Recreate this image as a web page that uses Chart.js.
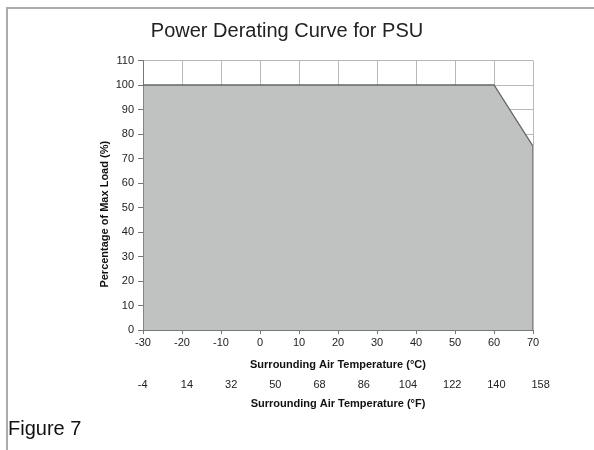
<!DOCTYPE html>
<html>
<head>
<meta charset="utf-8">
<script src="https://cdn.jsdelivr.net/npm/chart.js@4"></script>
<style>
    body { margin: 0; background: #fff; font-family: "Liberation Sans", Arial, sans-serif; }
    #frame {
        position: absolute; left: 6px; top: 7px; right: 0; bottom: 0;
        border-top: 2px solid #ababab; border-left: 2px solid #ababab;
    }
    #chart { position: absolute; left: 0; top: 0; }
    #caption {
        position: absolute; left: 8px; top: 417px;
        font-size: 20px; color: #111;
    }
</style>
</head>
<body>
<div id="frame"></div>
<canvas id="chart" width="594" height="450"></canvas>
<div id="caption">Figure 7</div>
<script>
// derating outline (°C vs % load)
const tempC = [-30, -30, 60, 70, 70];
const loadPct = [0, 100, 100, 75, 0];
// second axis labels (°F), as printed
const tempF = [-4, 14, 32, 50, 68, 86, 104, 122, 140, 158];

const FONT = "'Liberation Sans', Arial, sans-serif";
const tickFont = { family: FONT, size: 11 };
const titleFont = { family: FONT, size: 11, weight: 'bold' };

// y title sits a little below the plot centre in the original
const yTitlePlugin = {
    id: 'yTitle',
    afterDraw(chart) {
        const { ctx, chartArea } = chart;
        const y = chart.scales.y;
        ctx.save();
        ctx.translate(y.left + 64, (chartArea.top + chartArea.bottom) / 2 + 19);
        ctx.rotate(-Math.PI / 2);
        ctx.font = `bold 11px ${FONT}`;
        ctx.fillStyle = '#111';
        ctx.textAlign = 'center';
        ctx.textBaseline = 'middle';
        ctx.fillText('Percentage of Max Load (%)', 0, 0);
        ctx.restore();
    }
};

const ctx = document.getElementById('chart').getContext('2d');
new Chart(ctx, {
    type: 'line',
    data: {
        datasets: [{
            data: tempC.map((t, i) => ({ x: t, y: loadPct[i] })),
            borderColor: '#666',
            borderWidth: 1.3,
            backgroundColor: '#c0c2c1',
            fill: 'origin',
            pointRadius: 0,
            tension: 0
        }]
    },
    options: {
        responsive: false,
        animation: false,
        layout: { padding: { left: 41, right: 61, top: 0, bottom: 38 } },
        plugins: {
            legend: { display: false },
            tooltip: { enabled: false },
            title: {
                display: true,
                text: 'Power Derating Curve for PSU',
                color: '#222',
                font: { family: FONT, size: 20, weight: 'normal', lineHeight: 1.2 },
                padding: { top: 19, bottom: 17.5 }
            }
        },
        scales: {
            x: {
                type: 'linear',
                position: 'bottom',
                min: -30, max: 70,
                ticks: { stepSize: 10, color: '#222', font: tickFont, padding: 2.4, maxRotation: 0 },
                grid: { color: '#b8b8b8', tickColor: '#777', tickLength: 4 },
                border: { color: '#777' },
                title: {
                    display: true,
                    text: 'Surrounding Air Temperature (°C)',
                    color: '#111', font: titleFont,
                    padding: { top: 0, bottom: 0.4 }
                },
                afterFit: (s) => { s.height = 42; }
            },
            x2: {
                type: 'linear',
                position: 'bottom',
                min: -3.9, max: 154.9,
                afterBuildTicks: (s) => { s.ticks = tempF.map(v => ({ value: v })); },
                ticks: { color: '#222', font: tickFont, padding: -2, autoSkip: false, maxRotation: 0 },
                grid: { display: false },
                border: { display: false },
                title: {
                    display: true,
                    text: 'Surrounding Air Temperature (°F)',
                    color: '#111', font: titleFont,
                    padding: { top: 0, bottom: 1.1 }
                },
                afterFit: (s) => { s.height = 40; }
            },
            y: {
                min: 0, max: 110,
                ticks: { stepSize: 10, color: '#222', font: tickFont, padding: 4 },
                grid: { color: '#b8b8b8', tickColor: '#777', tickLength: 5 },
                border: { color: '#777' },
                afterFit: (s) => { s.width = 102; }
            }
        }
    },
    plugins: [yTitlePlugin]
});
</script>
</body>
</html>
